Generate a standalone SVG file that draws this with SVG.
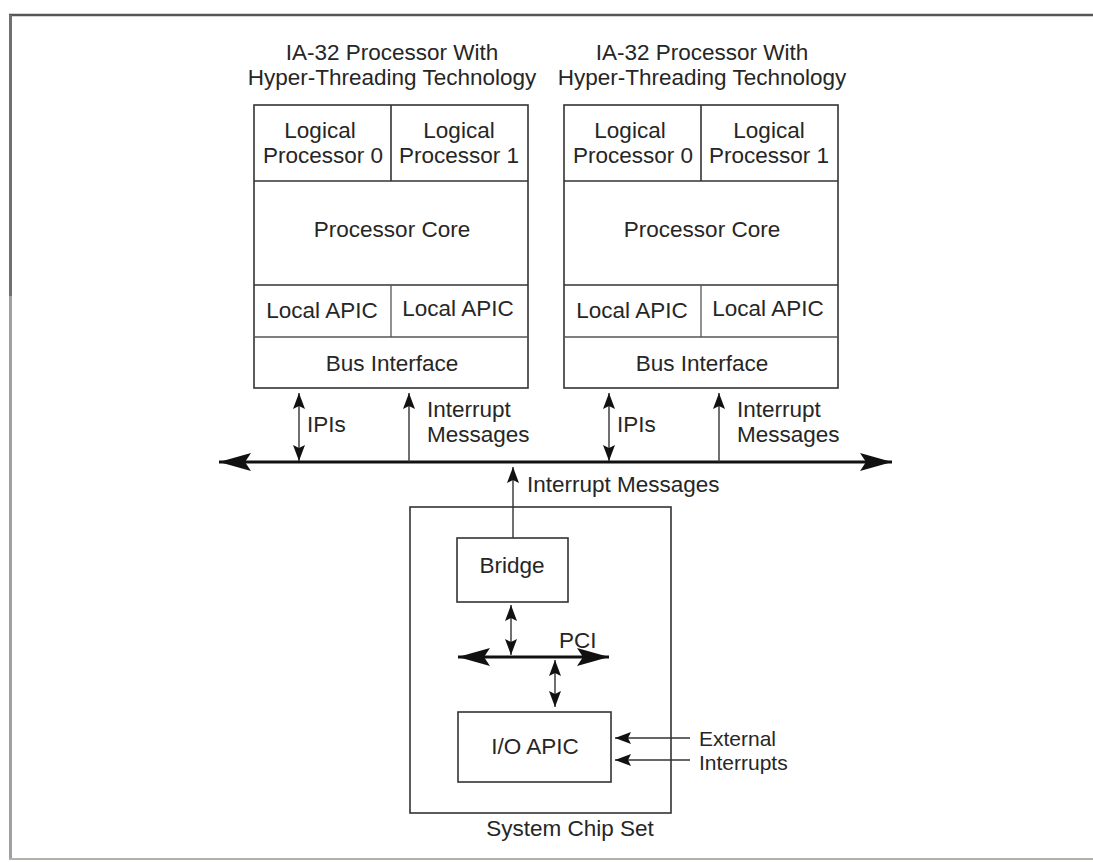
<svg xmlns="http://www.w3.org/2000/svg" width="1093" height="862" viewBox="0 0 1093 862">
<style>
text{font-family:"Liberation Sans",Arial,sans-serif;font-size:22.5px;fill:#262626}
.c{text-anchor:middle}
.sm{font-size:21px}
.box{fill:none;stroke:#333;stroke-width:1.6}
.thin{stroke:#555;stroke-width:1.3;fill:none}
.ln{stroke:#333;stroke-width:1.4;fill:none}
.bus{stroke:#111;stroke-width:2.8;fill:none}
</style>
<defs>
<marker id="sa" markerUnits="userSpaceOnUse" markerWidth="17" markerHeight="13" refX="16" refY="6" orient="auto-start-reverse" viewBox="0 0 17 13">
<path d="M0,0 L16,6 L0,12 L3,6 Z" fill="#111"/>
</marker>
<marker id="ba" markerUnits="userSpaceOnUse" markerWidth="33" markerHeight="19" refX="32" refY="9" orient="auto-start-reverse" viewBox="0 0 33 19">
<path d="M0,0 L32,9 L0,18 L6,9 Z" fill="#111"/>
</marker>
</defs>
<rect width="1093" height="862" fill="#fff"/>
<g id="frame">
<line x1="9" y1="15" x2="1093" y2="15" stroke="#555" stroke-width="2.5"/>
<line x1="10.5" y1="15" x2="10.5" y2="296" stroke="#707070" stroke-width="3"/>
<line x1="10.5" y1="296" x2="10.5" y2="859" stroke="#a0a0a0" stroke-width="3"/>
<line x1="9" y1="859" x2="1093" y2="859" stroke="#b0b4a8" stroke-width="2"/>
</g>
<g id="proc1">
<text class="c" x="392" y="60">IA-32 Processor With</text>
<text class="c" x="392" y="85">Hyper-Threading Technology</text>
<rect class="box" x="254" y="105" width="274" height="283"/>
<line class="box" x1="391" y1="105" x2="391" y2="181"/>
<line class="box" x1="254" y1="181" x2="528" y2="181"/>
<line class="box" x1="254" y1="285" x2="528" y2="285"/>
<line class="thin" x1="391" y1="285" x2="391" y2="337"/>
<line class="thin" x1="254" y1="337" x2="528" y2="337"/>
<text class="c" x="320" y="138">Logical</text>
<text class="c" x="323" y="163">Processor 0</text>
<text class="c" x="459" y="138">Logical</text>
<text class="c" x="459" y="163">Processor 1</text>
<text class="c" x="392" y="237">Processor Core</text>
<text class="c" x="322" y="318">Local APIC</text>
<text class="c" x="458" y="316">Local APIC</text>
<text class="c" x="392" y="371">Bus Interface</text>
</g>
<g id="proc2">
<text class="c" x="702" y="60">IA-32 Processor With</text>
<text class="c" x="702" y="85">Hyper-Threading Technology</text>
<rect class="box" x="564" y="105" width="274" height="283"/>
<line class="box" x1="701" y1="105" x2="701" y2="181"/>
<line class="box" x1="564" y1="181" x2="838" y2="181"/>
<line class="box" x1="564" y1="285" x2="838" y2="285"/>
<line class="thin" x1="701" y1="285" x2="701" y2="337"/>
<line class="thin" x1="564" y1="337" x2="838" y2="337"/>
<text class="c" x="630" y="138">Logical</text>
<text class="c" x="633" y="163">Processor 0</text>
<text class="c" x="769" y="138">Logical</text>
<text class="c" x="769" y="163">Processor 1</text>
<text class="c" x="702" y="237">Processor Core</text>
<text class="c" x="632" y="318">Local APIC</text>
<text class="c" x="768" y="316">Local APIC</text>
<text class="c" x="702" y="371">Bus Interface</text>
</g>
<g id="chipset">
<rect class="box" x="410" y="507" width="261" height="306"/>
<text class="c" x="570" y="836">System Chip Set</text>
</g>
<g id="bridge">
<rect class="box" x="457" y="538" width="111" height="64"/>
<text class="c" x="512" y="573">Bridge</text>
</g>
<g id="ioapic">
<rect class="box" x="458" y="712" width="153" height="70"/>
<text class="c" x="535" y="754">I/O APIC</text>
</g>
<g id="connectors">
<line class="bus" x1="219" y1="462" x2="892" y2="462" marker-start="url(#ba)" marker-end="url(#ba)"/>
<line class="ln" x1="299" y1="393" x2="299" y2="461" marker-start="url(#sa)" marker-end="url(#sa)"/>
<line class="ln" x1="409" y1="462" x2="409" y2="393" marker-end="url(#sa)"/>
<line class="ln" x1="609" y1="393" x2="609" y2="461" marker-start="url(#sa)" marker-end="url(#sa)"/>
<line class="ln" x1="719" y1="462" x2="719" y2="393" marker-end="url(#sa)"/>
<line class="ln" x1="513" y1="538" x2="513" y2="467" marker-end="url(#sa)"/>
<line class="bus" x1="458" y1="657" x2="609" y2="657" marker-start="url(#ba)" marker-end="url(#ba)"/>
<line class="ln" x1="511" y1="605" x2="511" y2="655" marker-start="url(#sa)" marker-end="url(#sa)"/>
<line class="ln" x1="555" y1="660" x2="555" y2="707" marker-start="url(#sa)" marker-end="url(#sa)"/>
<line class="ln" x1="690" y1="738" x2="615" y2="738" marker-end="url(#sa)"/>
<line class="ln" x1="690" y1="760" x2="615" y2="760" marker-end="url(#sa)"/>
<text x="307" y="432">IPIs</text>
<text x="427" y="417">Interrupt</text>
<text x="427" y="442">Messages</text>
<text x="617" y="432">IPIs</text>
<text x="737" y="417">Interrupt</text>
<text x="737" y="442">Messages</text>
<text x="527" y="492">Interrupt Messages</text>
<text x="559" y="648">PCI</text>
<text class="sm" x="699" y="746">External</text>
<text class="sm" x="699" y="770">Interrupts</text>
</g>
</svg>
